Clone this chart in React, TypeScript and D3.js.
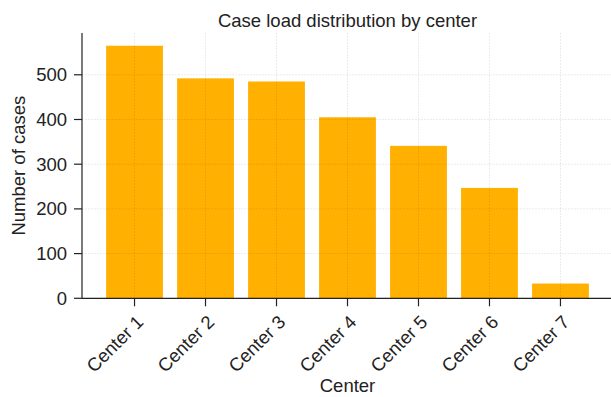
import React from "react";
import * as d3 from "d3";

const categories = ["Center 1", "Center 2", "Center 3", "Center 4", "Center 5", "Center 6", "Center 7"];
const values = [565, 492, 485, 405, 341, 247, 33];
const yTicks = [0, 100, 200, 300, 400, 500];

const W = 611;
const H = 397;
const left = 82;
const right = 613;
const top = 33;
const bottom = 298.3;
const font = "'Liberation Sans', Arial, sans-serif";
const fs = 18.5;

export default function App() {
  const n = categories.length;
  const x = d3.scaleLinear().domain([-0.74, n - 1 + 0.74]).range([left, right]);
  const step = x(1) - x(0);
  const y = d3.scaleLinear().domain([0, 593.5]).range([bottom, top]);
  const barW = 0.8 * step;
  return (
    <svg width={W} height={H} style={{ position: "absolute", left: 0, top: 0 }} fontFamily={font}>
      <rect x={0} y={0} width={W} height={H} fill="#fff" />
      <text x={(left + right) / 2} y={26.5} textAnchor="middle" fontSize={fs} fill="#222">
        Case load distribution by center
      </text>
      {values.map((v, i) => (
        <rect key={i} x={x(i) - barW / 2} y={y(v)} width={barW} height={bottom - y(v)} fill="#FFB000" />
      ))}
      {yTicks.map((t) => (
        <line key={"gy" + t} x1={left} x2={right} y1={y(t)} y2={y(t)} stroke="#000" strokeOpacity={0.1} strokeWidth={0.8} strokeDasharray="2,1" />
      ))}
      {categories.map((c, i) => (
        <line key={"gx" + i} x1={x(i)} x2={x(i)} y1={top} y2={bottom} stroke="#000" strokeOpacity={0.1} strokeWidth={0.8} strokeDasharray="2,1" />
      ))}
      <line x1={left} x2={left} y1={top} y2={bottom} stroke="#222" strokeWidth={1.2} />
      <line x1={left} x2={right} y1={bottom} y2={bottom} stroke="#222" strokeWidth={1.2} />
      {yTicks.map((t) => (
        <g key={"ty" + t}>
          <line x1={left - 8} x2={left} y1={y(t)} y2={y(t)} stroke="#222" strokeWidth={1.2} />
          <text x={left - 15} y={y(t)} dy="0.35em" textAnchor="end" fontSize={fs} fill="#222">
            {t}
          </text>
        </g>
      ))}
      {categories.map((c, i) => (
        <g key={"tx" + i}>
          <line x1={x(i)} x2={x(i)} y1={bottom} y2={bottom + 8} stroke="#222" strokeWidth={1.2} />
          <text
            transform={`translate(${x(i) + 10},${bottom + 25}) rotate(-45)`}
            textAnchor="end"
            fontSize={fs}
            fill="#222"
          >
            {c}
          </text>
        </g>
      ))}
      <text x={(left + right) / 2} y={392} textAnchor="middle" fontSize={fs} fill="#222">
        Center
      </text>
      <text transform={`translate(25,${(top + bottom) / 2}) rotate(-90)`} textAnchor="middle" fontSize={fs} fill="#222">
        Number of cases
      </text>
    </svg>
  );
}
